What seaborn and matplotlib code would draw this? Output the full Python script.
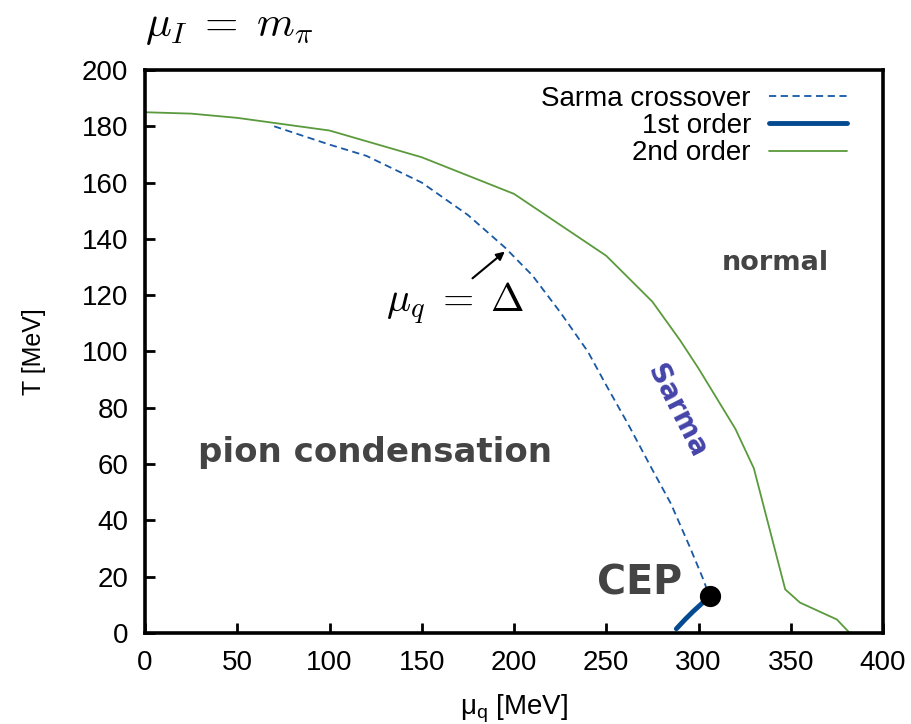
import matplotlib
matplotlib.use("Agg")
import matplotlib.pyplot as plt
import seaborn as sns
import pandas as pd

# Data
sarma_mu = [70, 100, 120, 150, 175, 195, 210, 225, 240, 250, 262, 275, 285, 295, 302, 306]
sarma_T = [180, 173.5, 169.5, 160, 148.5, 137, 127, 114, 100, 88, 74, 58, 46, 31, 20, 13]

first_mu = [288, 293, 297, 301, 304, 306]
first_T = [1.5, 5, 7.6, 10, 11.8, 13]

second_mu = [0, 25, 50, 100, 150, 200, 250, 275, 290, 300, 320, 330, 347, 355, 375, 382]
second_T = [185, 184.5, 183, 178.5, 169, 156, 134, 117.7, 104, 94, 72.5, 58.5, 15.5, 10.8, 4.8, 0]

cep_mu = [306.5]
cep_T = [13.2]

x_ticks = [0, 50, 100, 150, 200, 250, 300, 350, 400]
y_ticks = [0, 20, 40, 60, 80, 100, 120, 140, 160, 180, 200]

sns.set_theme(style="white")
plt.rcParams['font.family'] = ['Liberation Sans', 'DejaVu Sans']
plt.rcParams['mathtext.fontset'] = 'cm'
plt.rcParams['text.color'] = 'black'
plt.rcParams['axes.labelcolor'] = 'black'

fig = plt.figure(figsize=(9.11, 7.24), dpi=100)
ax = fig.add_axes([145/911, 1-633/724, (883-145)/911, (633-70)/724])

df_s = pd.DataFrame({"mu": sarma_mu, "T": sarma_T})
df_1 = pd.DataFrame({"mu": first_mu, "T": first_T})
df_2 = pd.DataFrame({"mu": second_mu, "T": second_T})

sns.lineplot(data=df_s, x="mu", y="T", ax=ax, color="#1858a4", lw=1.3,
             linestyle=(0, (4, 2.5)), sort=False, estimator=None, label="Sarma crossover")
sns.lineplot(data=df_1, x="mu", y="T", ax=ax, color="#034a90", lw=3.5,
             sort=False, estimator=None, label="1st order")
sns.lineplot(data=df_2, x="mu", y="T", ax=ax, color="#5a9a3c", lw=1.3,
             sort=False, estimator=None, label="2nd order")
sns.scatterplot(x=cep_mu, y=cep_T, ax=ax, color="black", s=200, zorder=5, edgecolor="black")

ax.set_xlim(0, 400)
ax.set_ylim(0, 200)
ax.set_xticks(x_ticks)
ax.set_yticks(y_ticks)
ax.tick_params(axis="both", which="both", direction="in", length=7, width=2,
               labelsize=20, colors="black", pad=12, top=False, right=False,
               bottom=True, left=True)
for sp in ax.spines.values():
    sp.set_linewidth(2.6)
    sp.set_color("black")

ax.set_xlabel(r"$\mathregular{\mu_q}$ [MeV]", fontsize=20, labelpad=12)
ax.set_ylabel("T [MeV]", fontsize=18, labelpad=26)

leg = ax.legend(loc="upper right", frameon=False, markerfirst=False, fontsize=20,
                handlelength=2.8, handletextpad=0.65, labelspacing=0.05,
                borderaxespad=0.0, bbox_to_anchor=(0.966, 0.992),
                labelcolor="black")

ax.text(0, 1.04, r"$\mu_I\;=\;m_\pi$", transform=ax.transAxes, fontsize=31,
        ha="left", va="bottom")

ax.text(124.5, 64, "pion condensation", fontsize=24.5, fontweight="bold",
        color="#444444", ha="center", va="center", family="DejaVu Sans")
ax.text(341.5, 131.5, "normal", fontsize=19.5, fontweight="bold",
        color="#444444", ha="center", va="center", family="DejaVu Sans")
ax.text(268, 17.5, "CEP", fontsize=28.5, fontweight="bold",
        color="#444444", ha="center", va="center", family="DejaVu Sans")
ax.text(288, 79, "Sarma", fontsize=20, fontweight="bold", rotation=-63,
        color="#4444aa", ha="center", va="center", family="DejaVu Sans",
        rotation_mode="anchor")
ax.text(168, 117, r"$\mu_q\;=\;\Delta$", fontsize=29, ha="center", va="center")
ax.annotate("", xy=(195, 135.5), xytext=(177.5, 126),
            arrowprops=dict(arrowstyle="-|>", color="black", lw=1.5,
                            mutation_scale=12, shrinkA=0, shrinkB=0))

fig.savefig("out.png", dpi=100)
